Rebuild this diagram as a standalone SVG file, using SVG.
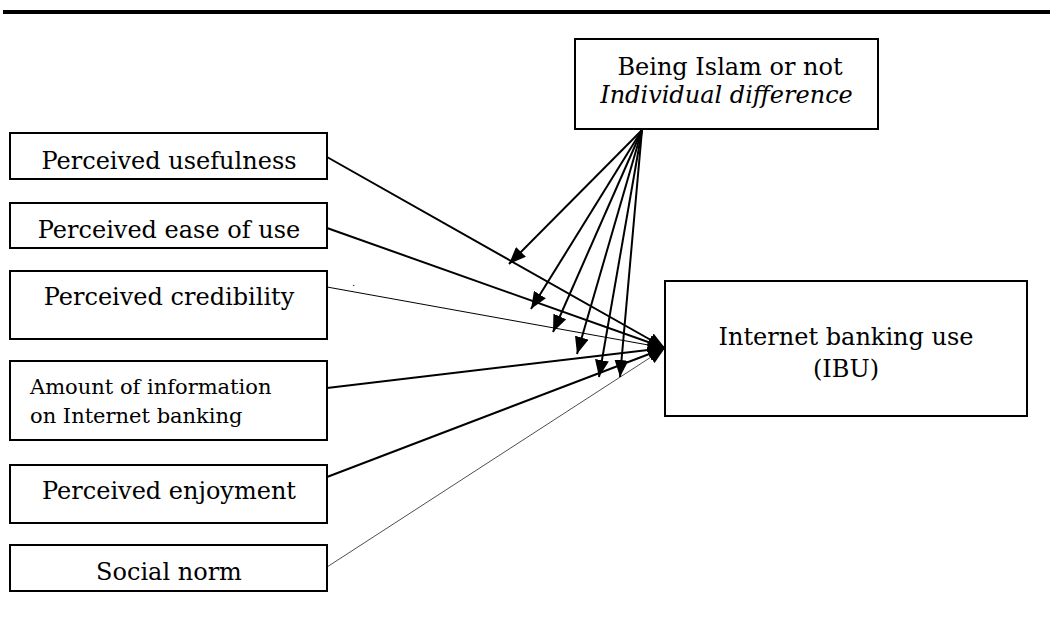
<svg xmlns="http://www.w3.org/2000/svg" width="1050" height="618" viewBox="0 0 1050 618">
<style>
.box{fill:#fff;stroke:#000;stroke-width:2}
.t{font-family:"DejaVu Serif",serif;font-size:24px;fill:#000}
.s{font-family:"DejaVu Serif",serif;font-size:21px;fill:#000}
.c{stroke:#000;fill:none}
</style>
<defs>
<marker id="ah" markerUnits="userSpaceOnUse" markerWidth="18" markerHeight="14" refX="17" refY="7" orient="auto">
<path d="M0,0 L17,7 L0,14 z" fill="#000"/>
</marker>
</defs>
<rect x="3" y="10" width="1047" height="4" fill="#000"/>
<g id="n-islam">
<rect class="box" x="575" y="39" width="303" height="90"/>
<text class="t" x="730" y="75" text-anchor="middle">Being Islam or not</text>
<text class="t" x="726.5" y="103" text-anchor="middle" font-style="italic">Individual difference</text>
</g>
<g id="n-pu">
<rect class="box" x="10" y="133" width="317" height="46"/>
<text class="t" x="169" y="169" text-anchor="middle">Perceived usefulness</text>
</g>
<g id="n-peou">
<rect class="box" x="10" y="203" width="317" height="45"/>
<text class="t" x="169" y="238" text-anchor="middle">Perceived ease of use</text>
</g>
<g id="n-pc">
<rect class="box" x="10" y="271" width="317" height="68"/>
<text class="t" x="169" y="305" text-anchor="middle">Perceived credibility</text>
</g>
<g id="n-aoi">
<rect class="box" x="10" y="361" width="317" height="79"/>
<text class="s" x="30" y="394">Amount of information</text>
<text class="s" x="30" y="423">on Internet banking</text>
</g>
<g id="n-pe">
<rect class="box" x="10" y="465" width="317" height="58"/>
<text class="t" x="169" y="499" text-anchor="middle">Perceived enjoyment</text>
</g>
<g id="n-sn">
<rect class="box" x="10" y="545" width="317" height="46"/>
<text class="t" x="169" y="580" text-anchor="middle">Social norm</text>
</g>
<g id="n-ibu">
<rect class="box" x="665" y="281" width="362" height="135"/>
<text class="t" x="846" y="345" text-anchor="middle">Internet banking use</text>
<text class="t" x="846" y="377" text-anchor="middle">(IBU)</text>
</g>
<text x="352" y="286" font-family="DejaVu Serif,serif" font-size="10">.</text>
<g id="connectors">
<line class="c" x1="327" y1="157" x2="665" y2="348" stroke-width="2" marker-end="url(#ah)"/>
<line class="c" x1="327" y1="228" x2="665" y2="348" stroke-width="2" marker-end="url(#ah)"/>
<line class="c" x1="327" y1="287" x2="665" y2="348" stroke-width="1" marker-end="url(#ah)"/>
<line class="c" x1="327" y1="388" x2="665" y2="348" stroke-width="2" marker-end="url(#ah)"/>
<line class="c" x1="327" y1="477" x2="665" y2="348" stroke-width="2" marker-end="url(#ah)"/>
<line class="c" x1="327" y1="567" x2="665" y2="348" stroke-width="0.7" marker-end="url(#ah)"/>
<line class="c" x1="642" y1="130" x2="509" y2="264" stroke-width="2" marker-end="url(#ah)"/>
<line class="c" x1="642" y1="130" x2="531" y2="309" stroke-width="2" marker-end="url(#ah)"/>
<line class="c" x1="642" y1="130" x2="553" y2="332" stroke-width="2" marker-end="url(#ah)"/>
<line class="c" x1="642" y1="130" x2="577" y2="354" stroke-width="2" marker-end="url(#ah)"/>
<line class="c" x1="642" y1="130" x2="599" y2="377" stroke-width="2" marker-end="url(#ah)"/>
<line class="c" x1="642" y1="130" x2="620" y2="377" stroke-width="2" marker-end="url(#ah)"/>
</g>
</svg>
